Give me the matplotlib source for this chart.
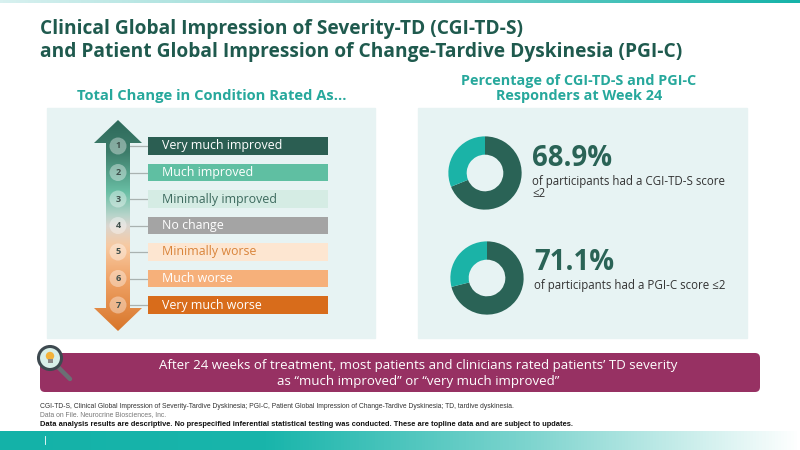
import numpy as np
import matplotlib
matplotlib.use('Agg')
import matplotlib.pyplot as plt
from matplotlib.colors import LinearSegmentedColormap
from matplotlib.patches import Polygon, Circle, FancyBboxPatch, Rectangle

# rating scale (left panel)
levels = [1, 2, 3, 4, 5, 6, 7]
level_labels = ['Very much improved', 'Much improved', 'Minimally improved', 'No change',
                'Minimally worse', 'Much worse', 'Very much worse']
bar_colors = ['#2b5e52', '#5fbfa2', '#d5ece4', '#a4a4a4', '#fde6d1', '#f6b07a', '#d86c1b']
label_colors = ['white', 'white', '#3d6a5e', 'white', '#d9843a', 'white', 'white']

# responders (right panel)
responder_pct = [68.9, 71.1]
responder_text = ['of participants had a CGI-TD-S score\n\u22642', 'of participants had a PGI-C score \u22642']

DARK = '#1f5a4e'
TEAL = '#27a89c'
FONT = 'Open Sans'

fig = plt.figure(figsize=(8, 4.5), dpi=100)
bg = fig.add_axes([0, 0, 1, 1])
bg.set_xlim(0, 800)
bg.set_ylim(450, 0)
bg.axis('off')

# top strip and bottom band gradients
grad = np.linspace(0, 1, 256).reshape(1, -1)
top_cmap = LinearSegmentedColormap.from_list('top', ['#d8f1f0', '#7fd3cd', '#16b3a9'])
bg.imshow(grad, cmap=top_cmap, extent=[0, 800, 3.5, 0], aspect='auto', zorder=1)
bot_cmap = LinearSegmentedColormap.from_list('bot', ['#14b2a8', '#19b5ab', '#7fd5cf', '#ffffff'])
bg.imshow(grad, cmap=bot_cmap, extent=[0, 800, 450, 431], aspect='auto', zorder=1)
bg.plot([45, 45], [436, 444], color='white', lw=0.6, zorder=2)

# title
bg.text(40, 29, 'Clinical Global Impression of Severity-TD (CGI-TD-S)', fontsize=13.8,
        fontweight='bold', color=DARK, family=FONT, va='center')
bg.text(40, 52, 'and Patient Global Impression of Change-Tardive Dyskinesia (PGI-C)', fontsize=13.8,
        fontweight='bold', color=DARK, family=FONT, va='center')

# panel subtitles
bg.text(212, 96, 'Total Change in Condition Rated As...', fontsize=10.6, fontweight='bold',
        color=TEAL, family=FONT, ha='center', va='center')
bg.text(579, 88.5, 'Percentage of CGI-TD-S and PGI-C\nResponders at Week 24', fontsize=10.4,
        fontweight='bold', color=TEAL, family=FONT, ha='center', va='center', linespacing=1.05)

# panel backgrounds
bg.add_patch(Rectangle((47, 108), 328, 230, color='#e7f3f3', zorder=1))
bg.add_patch(Rectangle((418, 108), 329, 230, color='#e7f3f3', zorder=1))

# gradient arrow
arrow_pts = [(118, 120), (142, 143), (130, 143), (130, 308), (142, 308), (118, 331),
             (94, 308), (106, 308), (106, 143), (94, 143)]
arrow = Polygon(arrow_pts, closed=True, facecolor='none', edgecolor='none')
bg.add_patch(arrow)
arrow_cmap = LinearSegmentedColormap.from_list('arr', [
    (0.0, '#2e6a5b'), (0.15, '#3d7c6a'), (0.34, '#69bea4'), (0.45, '#b6d4ca'),
    (0.50, '#dad6d0'), (0.60, '#f8c9a0'), (0.76, '#efa266'), (1.0, '#d8762a')])
vgrad = np.linspace(0, 1, 256).reshape(-1, 1)
img = bg.imshow(vgrad, cmap=arrow_cmap, extent=[94, 142, 331, 120], aspect='auto', zorder=3)
img.set_clip_path(arrow)

y0, step = 146, 26.5
for lvl in levels:
    y = y0 + (lvl - 1) * step
    bg.add_patch(Circle((118, y), 8.5, facecolor='white', alpha=0.38, edgecolor='none', zorder=4))
    bg.text(118, y, str(lvl), fontsize=6.5, fontweight='bold', color='#3f4f4b', family=FONT,
            ha='center', va='center', zorder=5)
    bg.plot([127, 148], [y, y], color='#a9b2b0', lw=0.9, zorder=2)

bar_y = [y0 + (l - 1) * step for l in levels]
bg.barh(bar_y, [180] * len(levels), left=148, height=17.5, color=bar_colors, zorder=3)
for y, lab, tc in zip(bar_y, level_labels, label_colors):
    bg.text(162, y, lab, fontsize=8.9, color=tc, family=FONT, va='center', zorder=4)

# donuts
donut_centers = [(485, 173), (487, 278)]
r = 37
for (cx, cy), pct, txt in zip(donut_centers, responder_pct, responder_text):
    ax = fig.add_axes([(cx - r) / 800, (450 - cy - r) / 450, 2 * r / 800, 2 * r / 450])
    ax.pie([pct, 100 - pct], colors=['#2a6356', '#1bb3a7'], startangle=90, counterclock=False,
           wedgeprops=dict(width=0.5, edgecolor='none'))
    ax.set_xlim(-1.01, 1.01)
    ax.set_ylim(-1.01, 1.01)
    tx = cx + 47
    bg.text(tx, cy - 15, f'{pct}%', fontsize=19.8, fontweight='bold', color='#2a6356',
            family=FONT, va='center')
    bg.text(tx, cy + 1.5, txt, fontsize=8.3, color='#333333', family=FONT, va='top', linespacing=0.95)

# callout banner
bg.add_patch(FancyBboxPatch((40, 353), 720, 39, boxstyle='round,pad=0,rounding_size=5',
                            facecolor='#973163', edgecolor='none', zorder=2))
bg.text(418, 366, 'After 24 weeks of treatment, most patients and clinicians rated patients\u2019 TD severity',
        fontsize=9.5, color='white', family=FONT, ha='center', va='center', zorder=3)
bg.text(418, 381, 'as \u201cmuch improved\u201d or \u201cvery much improved\u201d',
        fontsize=9.5, color='white', family=FONT, ha='center', va='center', zorder=3)

# magnifier icon
bg.plot([54, 70], [363, 379], color='#6a6f74', lw=3.2, solid_capstyle='round', zorder=4)
bg.add_patch(Circle((50, 358), 11.5, facecolor='#d8efe9', edgecolor='#3e4a50', lw=2.2, zorder=5))
bg.add_patch(Circle((50, 356), 4.2, facecolor='#f3b23a', edgecolor='none', zorder=6))
bg.add_patch(Rectangle((47.5, 359), 5, 4, facecolor='#8a8a8a', edgecolor='none', zorder=6))

# footnotes
narrow = ['Liberation Sans Narrow', 'Liberation Sans']
bg.text(40, 407, 'CGI-TD-S, Clinical Global Impression of Severity-Tardive Dyskinesia; PGI-C, Patient Global '
        'Impression of Change-Tardive Dyskinesia; TD, tardive dyskinesia.',
        fontsize=4.9, color='#333333', family=narrow, va='center')
bg.text(40, 415, 'Data on File. Neurocrine Biosciences, Inc.', fontsize=4.9, color='#777777',
        family=narrow, va='center')
bg.text(40, 424, 'Data analysis results are descriptive. No prespecified inferential statistical testing '
        'was conducted. These are topline data and are subject to updates.',
        fontsize=5.4, fontweight='bold', color='#111111', family=narrow, va='center')

fig.savefig('out.png', dpi=100)
